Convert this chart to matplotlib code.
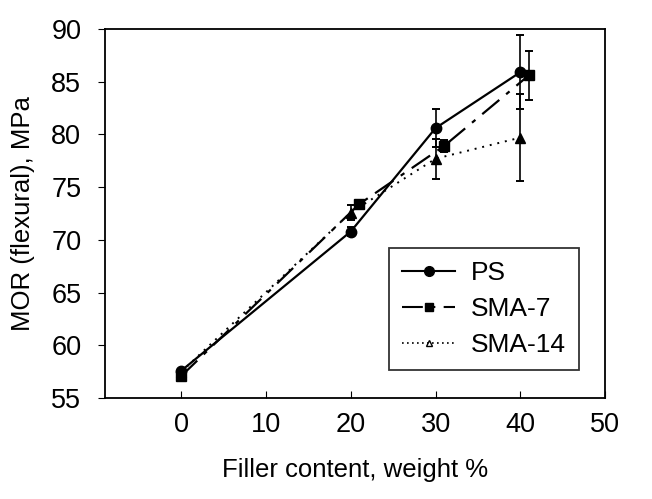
import matplotlib
matplotlib.use('Agg')
import matplotlib.pyplot as plt
from matplotlib.lines import Line2D

plt.rcParams['font.family'] = ['Liberation Sans', 'DejaVu Sans']

# dados
x_ps = [0, 20, 30, 40]
y_ps = [57.6, 70.8, 80.6, 85.9]
e_ps = [0.2, 0.4, 1.8, 3.5]

x_sma7 = [0, 21, 31, 41]
y_sma7 = [57.1, 73.4, 78.9, 85.6]
e_sma7 = [0.2, 0.3, 0.6, 2.3]

x_sma14 = [0, 20, 30, 40]
y_sma14 = [57.5, 72.6, 77.7, 79.7]
e_sma14 = [0.2, 0.7, 1.9, 4.1]

labels = ['PS', 'SMA-7', 'SMA-14']

fig = plt.figure(figsize=(6.52, 4.99), dpi=100)
ax = fig.add_axes([0.161, 0.202, 0.767, 0.740])

ax.errorbar(x_ps, y_ps, yerr=e_ps, color='black', lw=1.6, marker='o', ms=7.5,
            capsize=3, elinewidth=1.2, capthick=1.4)
ax.errorbar(x_sma7, y_sma7, yerr=e_sma7, color='black', lw=1.6, marker='s', ms=6.5,
            ls=(0, (10, 4, 2, 4)), capsize=3, elinewidth=1.2, capthick=1.4)
ax.errorbar(x_sma14, y_sma14, yerr=e_sma14, color='black', lw=1.4, marker='^', ms=6.5,
            ls=(0, (1, 3)), capsize=3, elinewidth=1.2, capthick=1.4)

ax.set_xlim(-9, 50)
ax.set_ylim(55, 90)
ax.set_xticks([0, 10, 20, 30, 40, 50])
ax.set_yticks([55, 60, 65, 70, 75, 80, 85, 90])
ax.tick_params(axis='x', direction='in', length=5, labelsize=19.5, pad=10)
ax.tick_params(axis='y', direction='out', length=5, labelsize=19.5, pad=12)
for s in ax.spines.values():
    s.set_linewidth(1.3)

ax.set_xlabel('Filler content, weight %', fontsize=18.5, labelpad=14)
ax.set_ylabel('MOR (flexural), MPa', fontsize=18.5, labelpad=12)

handles = [
    Line2D([], [], color='black', lw=1.5, marker='o', ms=7),
    Line2D([], [], color='black', lw=1.5, marker='s', ms=6, ls=(0, (10, 4, 2, 4))),
    Line2D([], [], color='black', lw=1.2, marker='^', ms=5, mfc='white', ls=(0, (1, 2))),
]
leg = ax.legend(handles, labels, loc='lower right', fontsize=19, frameon=True,
                fancybox=False, edgecolor='black', bbox_to_anchor=(0.948, 0.076),
                borderaxespad=0, handlelength=2.0, handletextpad=0.6,
                borderpad=0.5, labelspacing=0.45)
leg.get_frame().set_linewidth(1.3)

fig.savefig('out.png', dpi=100)
